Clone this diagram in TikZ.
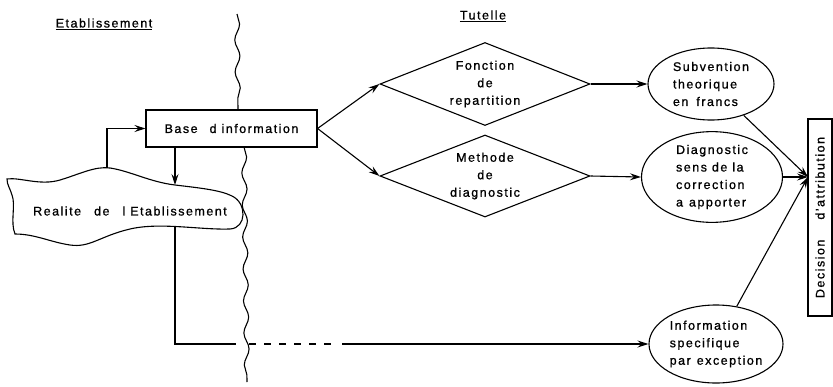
\documentclass[tikz,border=0pt]{standalone}
\usepackage{fontspec}
\setmainfont{Liberation Sans}[LetterSpace=12,FakeBold=1]
\usetikzlibrary{arrows.meta,shapes.geometric,decorations.pathmorphing}
\begin{document}
\begin{tikzpicture}[x=1pt,y=-1pt,
  every node/.style={font=\fontsize{12.5}{17.5}\selectfont},
  ln/.style={line width=1.1pt},
  arr/.style={ln,-{Stealth[length=11pt,width=7pt,inset=4pt]}},
  dia/.style={draw,ln,diamond,aspect=2.5,inner sep=0pt,minimum width=210pt,minimum height=83pt,align=center},
  ell/.style={draw,ln,ellipse,inner sep=0pt,align=left},
  wavy/.style={ln,decorate,decoration={snake,amplitude=2.5pt,segment length=32pt}}]
\useasboundingbox (0,0) rectangle (833,386);

% titles
\node (lE) at (104,24) {\underline{Etablissement}};
\node (lT) at (483,16) {\underline{Tutelle}};

% wavy border
\draw[wavy] (237,14) -- (238,110);
\draw[wavy] (244,147) -- (247,382);

% reality shape
\draw[ln,fill=white] (7,179) .. controls (20,177) and (40,186) .. (60,180)
  .. controls (80,174) and (95,166) .. (110,168)
  .. controls (130,171) and (150,182) .. (175,185)
  .. controls (200,188) and (220,190) .. (232,196)
  .. controls (247,203) and (247,228) .. (230,229)
  .. controls (200,230) and (160,222) .. (130,229)
  .. controls (100,236) and (90,248) .. (70,245)
  .. controls (50,242) and (35,234) .. (15,234)
  .. controls (10,222) and (16,205) .. (12,195)
  .. controls (10,188) and (7,185) .. (7,179) -- cycle;
\node (real) at (130,211) {Realite\hspace{13pt}de\hspace{13pt}l Etablissement};
\coordinate (r1) at (107,168);
\coordinate (r2) at (175,185);
\coordinate (r3) at (175,227);

% nodes
\node[draw,ln,fill=white,minimum width=171pt,minimum height=37pt,inner sep=0pt] (base) at (231.5,128.5) {Base\hspace{12pt}d information};
\node[dia] (d1) at (485,84) {Fonction\\de\\repartition};
\node[dia,minimum height=82pt] (d2) at (485,176) {Methode\\de\\diagnostic};
\node[ell,minimum width=126pt,minimum height=72pt] (e1) at (711,84) {Subvention\\theorique\\en\hspace{8pt}francs};
\node[ell,minimum width=141pt,minimum height=82pt] (e2) at (712,177) {Diagnostic\\sens de la\\correction\\a\hspace{6pt}apporter};
\node[ell,minimum width=134pt,minimum height=78pt] (e3) at (716,344) {Information\\specifique\\par\hspace{6pt}exception};
\node[draw,ln,rotate=90,minimum width=197pt,minimum height=24pt,inner sep=0pt] (dec) at (820,217.5) {Decision\hspace{20pt}d'attribution};
\coordinate (conv) at (808,177);

% connectors
\draw[arr] (r1) |- (base.west);
\draw[arr] (base.south -| r2) -- (r2);
\draw[arr] (base.east) -- (d1.west);
\draw[arr] (base.east) -- (d2.west);
\draw[arr] (d1.east) -- (e1.west);
\draw[arr] (d2.east) -- (e2.west);
\draw[arr] (e1) -- (conv);
\draw[arr] (e2.east) -- (conv);
\draw[arr] (e3) -- (conv);
\coordinate (h1) at (236,344);
\coordinate (h2) at (249,344);
\coordinate (h3) at (336,344);
\coordinate (h4) at (342,344);
\draw[ln] (r3) |- (h1);
\draw[ln,dash pattern=on 7pt off 8pt] (h2) -- (h3);
\draw[arr] (h4) -- (e3.west);
\end{tikzpicture}
\end{document}
